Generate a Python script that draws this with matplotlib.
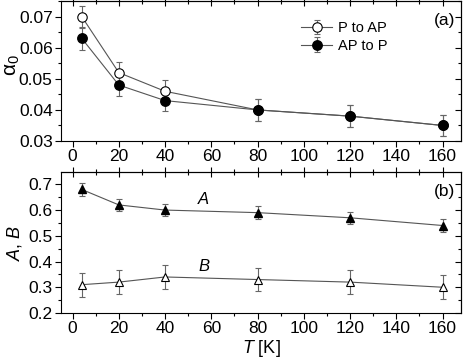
import matplotlib
matplotlib.use('Agg')
import matplotlib.pyplot as plt
from matplotlib.ticker import MultipleLocator, NullFormatter, FormatStrFormatter

plt.rcParams['font.family'] = ['Liberation Sans', 'DejaVu Sans']
plt.rcParams['mathtext.fontset'] = 'custom'
plt.rcParams['mathtext.rm'] = 'Liberation Sans'
plt.rcParams['mathtext.it'] = 'Liberation Sans:italic'

# 数据
T = [4, 20, 40, 80, 120, 160]
p_to_ap = [0.070, 0.052, 0.046, 0.040, 0.038, 0.035]
p_to_ap_err = [0.0036, 0.0035, 0.0035, 0.0035, 0.0035, 0.0035]
ap_to_p = [0.063, 0.048, 0.043, 0.040, 0.038, 0.035]
ap_to_p_err = [0.0036, 0.0035, 0.0035, 0.0035, 0.0035, 0.0035]
A = [0.68, 0.62, 0.60, 0.59, 0.57, 0.54]
A_err = [0.024, 0.024, 0.024, 0.024, 0.024, 0.024]
B = [0.31, 0.32, 0.34, 0.33, 0.32, 0.30]
B_err = [0.046, 0.046, 0.046, 0.046, 0.046, 0.046]

fig = plt.figure(figsize=(4.63, 3.62), dpi=100)
ax1 = fig.add_axes([0.1318, 0.6105, 0.864, 0.3880])
ax2 = fig.add_axes([0.1318, 0.1354, 0.864, 0.3895])

line_kw = dict(color='#555555', lw=0.8, elinewidth=0.8, ecolor='#666666',
               capsize=2.2, capthick=0.8)

ax1.errorbar(T, p_to_ap, yerr=p_to_ap_err, marker='o', ms=6.8, mfc='white',
             mec='black', mew=0.8, label='P to AP', **line_kw)
ax1.errorbar(T, ap_to_p, yerr=ap_to_p_err, marker='o', ms=6.8, mfc='black',
             mec='black', label='AP to P', **line_kw)
ax1.set_ylim(0.03, 0.0752)
ax1.set_ylabel(r'$\mathrm{\alpha}_0$', fontsize=15)
ax1.yaxis.set_label_coords(-0.098, 0.54)
leg = ax1.legend(loc='center left', bbox_to_anchor=(0.601, 0.741),
                 frameon=False, fontsize=10.5, handlelength=2.1,
                 handletextpad=0.4, labelspacing=0.25, borderpad=0,
                 borderaxespad=0)
ax1.text(0.985, 0.855, '(a)', transform=ax1.transAxes, ha='right',
         va='center', fontsize=12.5)
ax1.yaxis.set_major_locator(MultipleLocator(0.01))
ax1.yaxis.set_minor_locator(MultipleLocator(0.005))
ax1.yaxis.set_major_formatter(FormatStrFormatter('%.2f'))

ax2.errorbar(T, A, yerr=A_err, marker='^', ms=6.3, mfc='black', mec='black',
             **line_kw)
ax2.errorbar(T, B, yerr=B_err, marker='^', ms=6.3, mfc='white', mec='black',
             mew=0.8, **line_kw)
ax2.text(56.5, 0.64, 'A', fontsize=12, style='italic', ha='center', va='center')
ax2.text(57, 0.382, 'B', fontsize=12, style='italic', ha='center', va='center')
ax2.text(0.985, 0.865, '(b)', transform=ax2.transAxes, ha='right',
         va='center', fontsize=12.5)
ax2.set_ylim(0.2, 0.748)
ax2.yaxis.set_major_locator(MultipleLocator(0.1))
ax2.yaxis.set_minor_locator(MultipleLocator(0.05))
ax2.yaxis.set_major_formatter(FormatStrFormatter('%.1f'))
ax2.set_ylabel(r'$A$, $B$', fontsize=13, labelpad=3)
ax2.set_xlabel(r'$T$ [K]', fontsize=13, labelpad=1)

for ax in (ax1, ax2):
    ax.set_xlim(-5, 168)
    ax.xaxis.set_major_locator(MultipleLocator(20))
    ax.xaxis.set_minor_locator(MultipleLocator(10))
    ax.tick_params(which='both', labelsize=12.5, width=0.8, direction='out')
    ax.tick_params(which='major', length=4)
    ax.tick_params(which='minor', length=2.5)
    ax.tick_params(axis='both', which='both', pad=2)
    for s in ax.spines.values():
        s.set_linewidth(0.8)

    # 上边框刻度穿过轴线，右边框刻度朝内
    top = ax.secondary_xaxis('top')
    top.xaxis.set_major_locator(MultipleLocator(20))
    top.xaxis.set_minor_locator(MultipleLocator(10))
    top.xaxis.set_major_formatter(NullFormatter())
    top.tick_params(which='both', direction='inout', width=0.8)
    top.tick_params(which='major', length=7)
    top.tick_params(which='minor', length=4.5)
    top.spines['top'].set_linewidth(0.8)

    right = ax.secondary_yaxis('right')
    right.yaxis.set_major_locator(ax.yaxis.get_major_locator())
    right.yaxis.set_minor_locator(ax.yaxis.get_minor_locator())
    right.yaxis.set_major_formatter(NullFormatter())
    right.tick_params(which='both', direction='in', width=0.8)
    right.tick_params(which='major', length=4)
    right.tick_params(which='minor', length=2.5)
    right.spines['right'].set_linewidth(0.8)

plt.savefig('out.png', dpi=100)
